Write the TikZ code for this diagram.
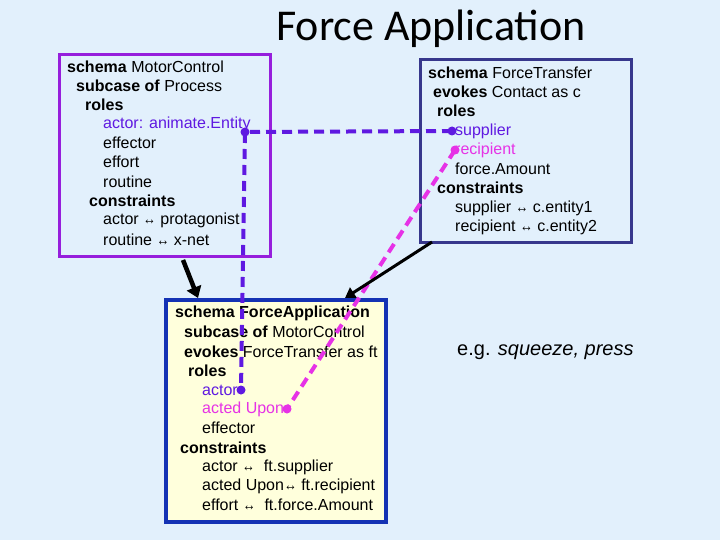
\documentclass[tikz,border=0pt]{standalone}
\usepackage{fontspec}
\setmainfont{Liberation Sans}
\newfontfamily\titlefont{Carlito}
\usetikzlibrary{positioning,arrows.meta}
\definecolor{bgblue}{RGB}{226,240,252}
\definecolor{mcpurple}{RGB}{150,30,220}
\definecolor{ftblue}{RGB}{55,55,140}
\definecolor{fablue}{RGB}{20,50,180}
\definecolor{fafill}{RGB}{255,255,220}
\definecolor{linkpurple}{RGB}{95,25,225}
\definecolor{linkmag}{RGB}{230,50,230}
\newcommand{\bindsym}{\scalebox{0.8}[1]{↔}}
\tikzset{
  txt/.style={anchor=west,inner sep=0pt,font=\fontsize{16}{16}\selectfont},
  dot/.style={circle,fill,inner sep=0pt,minimum size=9pt},
  bind/.style={line width=4pt,dash pattern=on 10pt off 6pt},
  inherit/.style={line width=4.5pt,-{Triangle[length=11pt,width=15pt]}},
}
\begin{document}
\begin{tikzpicture}[x=1pt,y=-1pt]
\useasboundingbox[fill=bgblue] (0,0) rectangle (720,540);
\node[font=\titlefont\fontsize{44}{44}\selectfont] (title) at (431,29) {Force Application};
% boxes
\draw[mcpurple,line width=3pt] (59,55) rectangle (270,256);
\draw[ftblue,line width=3pt] (420,60) rectangle (631,242);
\draw[fablue,line width=4pt,fill=fafill] (166,300) rectangle (386,522);
% MotorControl
\node[txt] (mc1) at (67,67) {\textbf{schema} MotorControl};
\node[txt] (mc2) at (76,86) {\textbf{subcase of} Process};
\node[txt] (mc3) at (85,105) {\textbf{roles}};
\node[txt,text=linkpurple] (mcActor) at (103,124) {actor: animate.Entity};
\node[txt] (mc5) at (103,143) {effector};
\node[txt] (mc6) at (103,162) {effort};
\node[txt] (mc7) at (103,182) {routine};
\node[txt] (mc8) at (89,201) {\textbf{constraints}};
\node[txt] (mc9) at (103,220) {actor \bindsym{} protagonist};
\node[txt] (mc10) at (103,240) {routine \bindsym{} x-net};
% ForceTransfer
\node[txt] (ft1) at (428,73) {\textbf{schema} ForceTransfer};
\node[txt] (ft2) at (433,92) {\textbf{evokes} Contact as c};
\node[txt] (ft3) at (437,111) {\textbf{roles}};
\node[txt,text=linkpurple] (ftSupplier) at (455,131) {supplier};
\node[txt,text=linkmag] (ftRecipient) at (455,150) {recipient};
\node[txt] (ft6) at (455,169) {force.Amount};
\node[txt] (ft7) at (437,188) {\textbf{constraints}};
\node[txt] (ft8) at (455,208) {supplier \bindsym{} c.entity1};
\node[txt] (ft9) at (455,227) {recipient \bindsym{} c.entity2};
% ForceApplication
\node[txt] (fa1) at (175,313) {\textbf{schema ForceApplication}};
\node[txt] (fa2) at (184,332) {\textbf{subcase of} MotorControl};
\node[txt] (fa3) at (184,352) {\textbf{evokes} ForceTransfer as ft};
\node[txt] (fa4) at (188,371) {\textbf{roles}};
\node[txt,text=linkpurple] (faActor) at (202,390) {actor};
\node[txt,text=linkmag] (faActed) at (202,409) {acted Upon};
\node[txt] (fa7) at (202,428) {effector};
\node[txt] (fa8) at (180,448) {\textbf{constraints}};
\node[txt] (fa9) at (202,467) {actor \bindsym{}\ \ ft.supplier};
\node[txt] (fa10) at (202,486) {acted Upon\bindsym{} ft.recipient};
\node[txt] (fa11) at (202,505) {effort \bindsym{}\ \ ft.force.Amount};
\node[txt,font=\fontsize{20}{20}\selectfont] (eg) at (457,352) {e.g. \textit{squeeze, press}};
% bindings
\node[dot,fill=linkpurple] (d1) at (245,132) {};
\node[dot,fill=linkpurple] (d2) at (452,131) {};
\node[dot,fill=linkpurple] (d3) at (241,390) {};
\node[dot,fill=linkmag] (d4) at (455,150) {};
\node[dot,fill=linkmag] (d5) at (287,409) {};
\draw[bind,linkpurple] (d2.center) -- (d1.center) -- (d3.center);
\draw[bind,linkmag] (d4.center) -- (d5.center);
% inheritance
\coordinate (mcOut) at (183,260);
\coordinate (faIn) at (198,298);
\coordinate (ftOut) at (432,242);
\coordinate (faIn2) at (345,298);
\draw[inherit] (mcOut) -- (faIn);
\draw[line width=3pt,-{Triangle[length=10pt,width=12pt]}] (ftOut) -- (faIn2);
\end{tikzpicture}
\end{document}
